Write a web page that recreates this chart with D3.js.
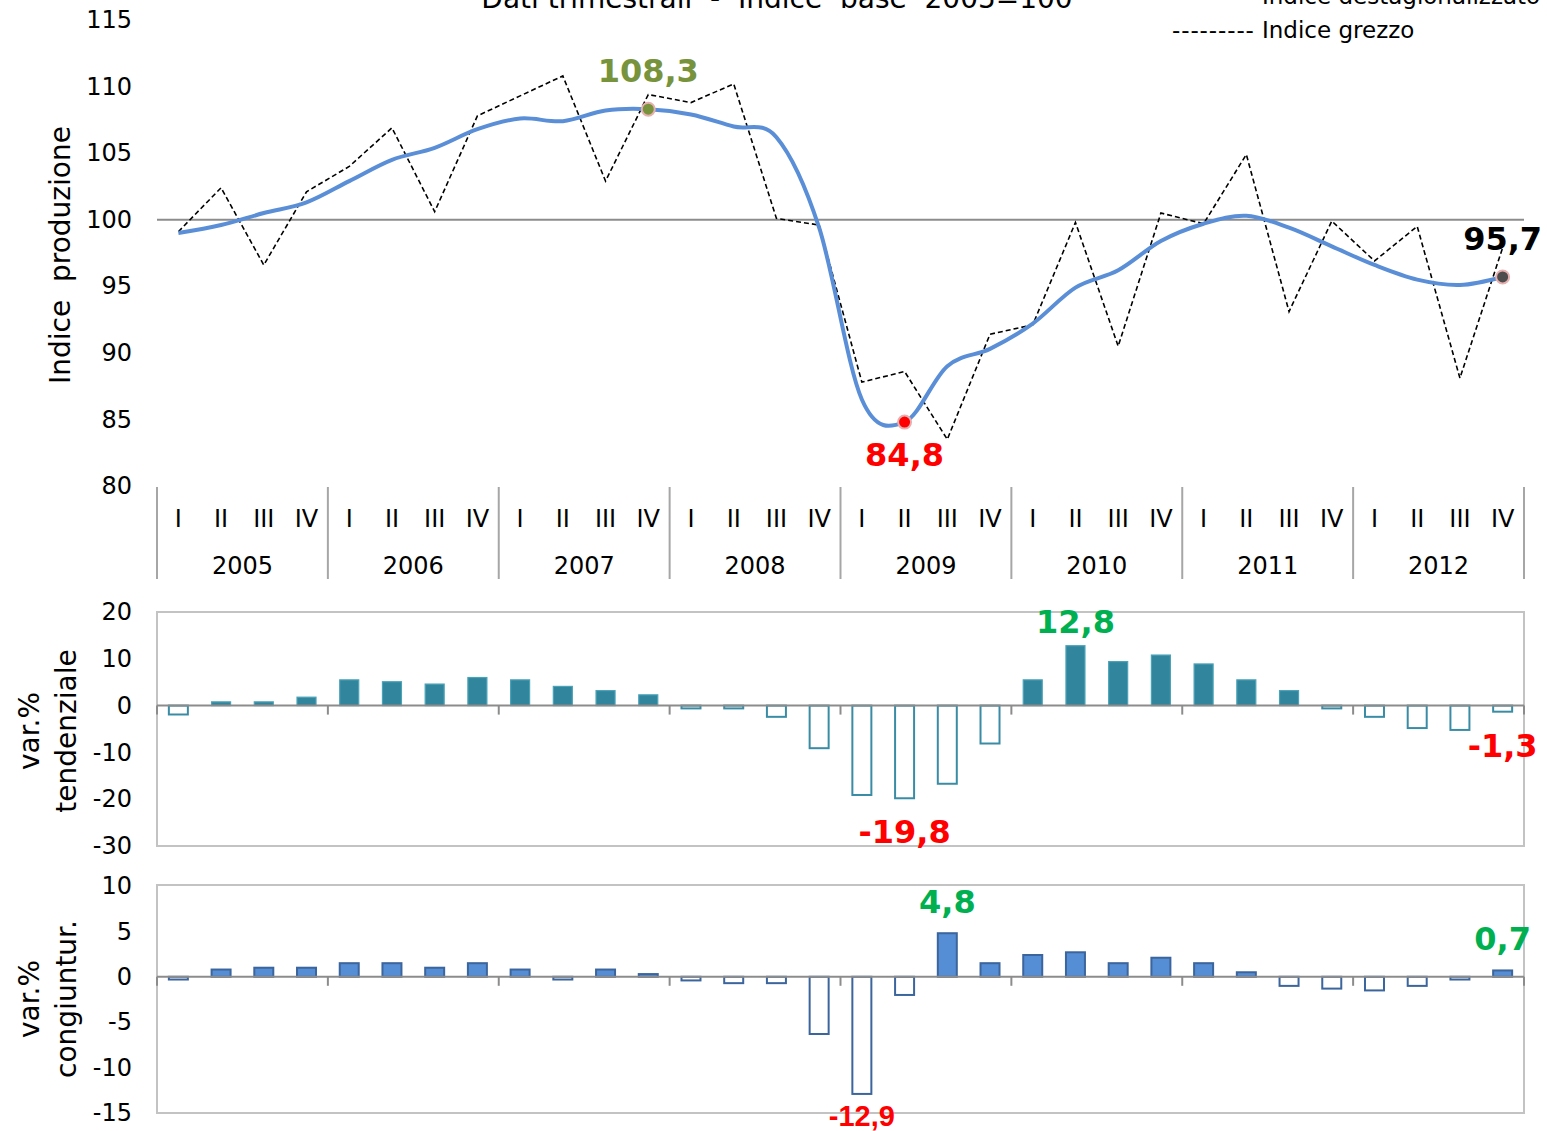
<!DOCTYPE html>
<html>
<head>
<meta charset="utf-8">
<script src="https://cdn.jsdelivr.net/npm/d3@7"></script>
<style>
	body { margin: 0; background: #fff; }
	text { font-family: "DejaVu Sans", Verdana, sans-serif; fill: #000; }
</style>
</head>
<body>
<svg id="chart" width="1547" height="1131"></svg>
<script>
// data, quarters 2005 Q1 .. 2012 Q4
const quarters = ["I", "II", "III", "IV"];
const years = [2005, 2006, 2007, 2008, 2009, 2010, 2011, 2012];
const destagionalizzato = [99.0, 99.6, 100.5, 101.3, 102.9, 104.5, 105.4, 106.8,
	107.6, 107.4, 108.2, 108.3, 107.9, 107.0, 106.2, 99.4,
	86.5, 84.8, 89.0, 90.3, 92.2, 94.9, 96.2, 98.4,
	99.7, 100.3, 99.4, 98.0, 96.6, 95.5, 95.1, 95.7];
const grezzo = [99.1, 102.4, 96.6, 102.1, 104.0, 106.9, 100.6, 107.8,
	109.3, 110.8, 102.9, 109.4, 108.8, 110.2, 100.1, 99.6,
	87.8, 88.6, 83.5, 91.4, 92.1, 99.8, 90.5, 100.5,
	99.7, 104.9, 93.1, 99.9, 96.9, 99.5, 88.1, 97.9];
const tendenziale = [-1.9, 0.8, 0.8, 1.8, 5.5, 5.1, 4.6, 6.0,
	5.5, 4.1, 3.2, 2.3, -0.6, -0.6, -2.4, -9.1,
	-19.1, -19.8, -16.7, -8.1, 5.5, 12.8, 9.4, 10.8,
	8.9, 5.5, 3.2, -0.6, -2.4, -4.8, -5.2, -1.3];
const congiunturale = [-0.3, 0.8, 1.0, 1.0, 1.5, 1.5, 1.0, 1.5,
	0.8, -0.3, 0.8, 0.3, -0.4, -0.7, -0.7, -6.3,
	-12.9, -2.0, 4.8, 1.5, 2.4, 2.7, 1.5, 2.1,
	1.5, 0.5, -1.0, -1.3, -1.5, -1.0, -0.3, 0.7];
const topTicks = [80, 85, 90, 95, 100, 105, 110, 115];
const midTicks = [-30, -20, -10, 0, 10, 20];
const botTicks = [-15, -10, -5, 0, 5, 10];

const svg = d3.select("#chart");
const left = 157, right = 1524;

const idx = d3.range(destagionalizzato.length);
const x = d3.scaleBand().domain(idx).range([left, right]).paddingInner(0).paddingOuter(0);
const cx = function(i){ return x(i) + x.bandwidth() / 2; };
const barW = 19;

const yTop = d3.scaleLinear().domain([80, 115]).range([486, 20]);
const yMid = d3.scaleLinear().domain([-30, 20]).range([846, 612]);
const yBot = d3.scaleLinear().domain([-15, 10]).range([1113, 886]);

// title and legend (cut at the top edge, as in the original)
svg.append("text").attr("x", 777).attr("y", 8).attr("text-anchor", "middle")
	.style("font-size", "28px").style("white-space", "pre")
	.text("Dati trimestrali  -  Indice  base  2005=100");
svg.append("text").attr("x", 1262).attr("y", 4).style("font-size", "23px")
	.text("Indice destagionalizzato");
let leg = svg.append("text").attr("x", 1172).attr("y", 38).style("font-size", "23px");
leg.append("tspan").style("letter-spacing", "0.9px").text("---------");
leg.append("tspan").attr("x", 1262).text("Indice grezzo");

// y axes
function yAxis(scale, ticks){
	const g = svg.append("g").attr("transform", "translate(" + [132, 0] + ")")
		.call(d3.axisLeft(scale).tickValues(ticks).tickSize(0).tickPadding(0)
			.tickFormat(function(d){ return String(d); }));
	g.select(".domain").remove();
	g.selectAll("text").style("font-size", "24px")
		.style("font-family", "'DejaVu Sans', Verdana, sans-serif").attr("fill", "#000");
}
yAxis(yTop, topTicks);
yAxis(yMid, midTicks);
yAxis(yBot, botTicks);

// axis titles
function rotLabel(lines, xs, cy){
	lines.forEach(function(t, k){
		svg.append("text").attr("transform", "translate(" + [xs[k], cy] + ") rotate(-90)")
			.attr("text-anchor", "middle").style("font-size", "28px").style("white-space", "pre")
			.text(t);
	});
}
rotLabel(["Indice  produzione"], [70], 255);
rotLabel(["var.%", "tendenziale"], [39, 76], 731);
rotLabel(["var.%", "congiuntur."], [39, 76], 999);

// top chart: reference line at 100
svg.append("line").attr("x1", left).attr("x2", right)
	.attr("y1", yTop(100)).attr("y2", yTop(100))
	.attr("stroke", "#8c8c8c").attr("stroke-width", 2);

// category axis below the top chart
const yearStarts = d3.range(0, idx.length + 1, 4);
svg.append("g").selectAll("line").data(yearStarts).enter().append("line")
	.attr("x1", function(d){ return d < idx.length ? x(d) : right; })
	.attr("x2", function(d){ return d < idx.length ? x(d) : right; })
	.attr("y1", 487).attr("y2", 579)
	.attr("stroke", "#a6a6a6").attr("stroke-width", 2);
svg.append("g").selectAll("text").data(idx).enter().append("text")
	.attr("x", cx).attr("y", 527).attr("text-anchor", "middle")
	.style("font-size", "24px")
	.text(function(i){ return quarters[i % 4]; });
svg.append("g").selectAll("text").data(years).enter().append("text")
	.attr("x", function(d, k){ return (x(k * 4) + x(k * 4 + 3) + x.bandwidth()) / 2; })
	.attr("y", 574).attr("text-anchor", "middle").style("font-size", "24px")
	.text(function(d){ return d; });

// lines
const rawLine = d3.line().x(function(d, i){ return cx(i); }).y(function(d){ return yTop(d); });
const smoothLine = d3.line().x(function(d, i){ return cx(i); }).y(function(d){ return yTop(d); })
	.curve(d3.curveCardinal.tension(0));
svg.append("path").attr("d", rawLine(grezzo)).attr("fill", "none")
	.attr("stroke", "#000").attr("stroke-width", 1.6).attr("stroke-dasharray", "5,3");
svg.append("path").attr("d", smoothLine(destagionalizzato)).attr("fill", "none")
	.attr("stroke", "#5a8fd7").attr("stroke-width", 4);

// highlighted points
const marks = [
	{i: 11, fill: "#77933c", label: "108,3", color: "#77933c", dy: -27},
	{i: 17, fill: "#ff0000", label: "84,8", color: "#ff0000", dy: 44},
	{i: 31, fill: "#4d4d4d", label: "95,7", color: "#000", dy: -27}
];
marks.forEach(function(m){
	svg.append("circle").attr("cx", cx(m.i)).attr("cy", yTop(destagionalizzato[m.i])).attr("r", 6.5)
		.attr("fill", m.fill).attr("stroke", "#e6b0b0").attr("stroke-width", 2);
	svg.append("text").attr("x", cx(m.i)).attr("y", yTop(destagionalizzato[m.i]) + m.dy)
		.attr("text-anchor", "middle").style("font-size", "32px").style("font-weight", "bold")
		.attr("fill", m.color).style("fill", m.color).text(m.label);
});

// bar panels
function barPanel(values, scale, top, bottom, pos, posStroke, negStroke, posWidth){
	svg.append("rect").attr("x", left).attr("y", top).attr("width", right - left)
		.attr("height", bottom - top).attr("fill", "none")
		.attr("stroke", "#c3c3c3").attr("stroke-width", 2);
	svg.append("g").selectAll("rect").data(values).enter().append("rect")
		.attr("x", function(d, i){ return cx(i) - barW / 2; })
		.attr("y", function(d){ return scale(Math.max(0, d)); })
		.attr("width", barW)
		.attr("height", function(d){ return Math.abs(scale(d) - scale(0)); })
		.attr("fill", function(d){ return d >= 0 ? pos : "#fff"; })
		.attr("stroke", function(d){ return d >= 0 ? posStroke : negStroke; })
		.attr("stroke-width", function(d){ return d >= 0 ? posWidth : 2; });
	svg.append("line").attr("x1", left).attr("x2", right)
		.attr("y1", scale(0)).attr("y2", scale(0))
		.attr("stroke", "#8c8c8c").attr("stroke-width", 2);
	svg.append("g").selectAll("line").data(yearStarts).enter().append("line")
		.attr("x1", function(d){ return d < idx.length ? x(d) : right; })
		.attr("x2", function(d){ return d < idx.length ? x(d) : right; })
		.attr("y1", scale(0)).attr("y2", scale(0) + 9)
		.attr("stroke", "#8c8c8c").attr("stroke-width", 2);
}
barPanel(tendenziale, yMid, 612, 846, "#31859c", "#4ba3b8", "#3a8ca5", 1.2);
barPanel(congiunturale, yBot, 885, 1113, "#558ed5", "#3b659c", "#3b659c", 2);

// value labels on the bar panels
const barLabels = [
	{data: tendenziale, scale: yMid, i: 21, label: "12,8", color: "#00b050", dy: -13},
	{data: tendenziale, scale: yMid, i: 17, label: "-19,8", color: "#ff0000", dy: 45},
	{data: tendenziale, scale: yMid, i: 31, label: "-1,3", color: "#ff0000", dy: 45},
	{data: congiunturale, scale: yBot, i: 18, label: "4,8", color: "#00b050", dy: -20},
	{data: congiunturale, scale: yBot, i: 31, label: "0,7", color: "#00b050", dy: -20}
];
barLabels.forEach(function(b){
	svg.append("text").attr("x", cx(b.i)).attr("y", b.scale(b.data[b.i]) + b.dy)
		.attr("text-anchor", "middle").style("font-size", "32px").style("font-weight", "bold")
		.style("fill", b.color).text(b.label);
});
svg.append("text").attr("x", cx(16)).attr("y", yBot(congiunturale[16]) + 32)
	.attr("text-anchor", "middle")
	.style("font-family", "'Liberation Sans Narrow', 'Liberation Sans', Arial, sans-serif")
	.style("font-size", "29px").style("font-weight", "bold").style("fill", "#ff0000")
	.text("-12,9");
</script>
</body>
</html>
